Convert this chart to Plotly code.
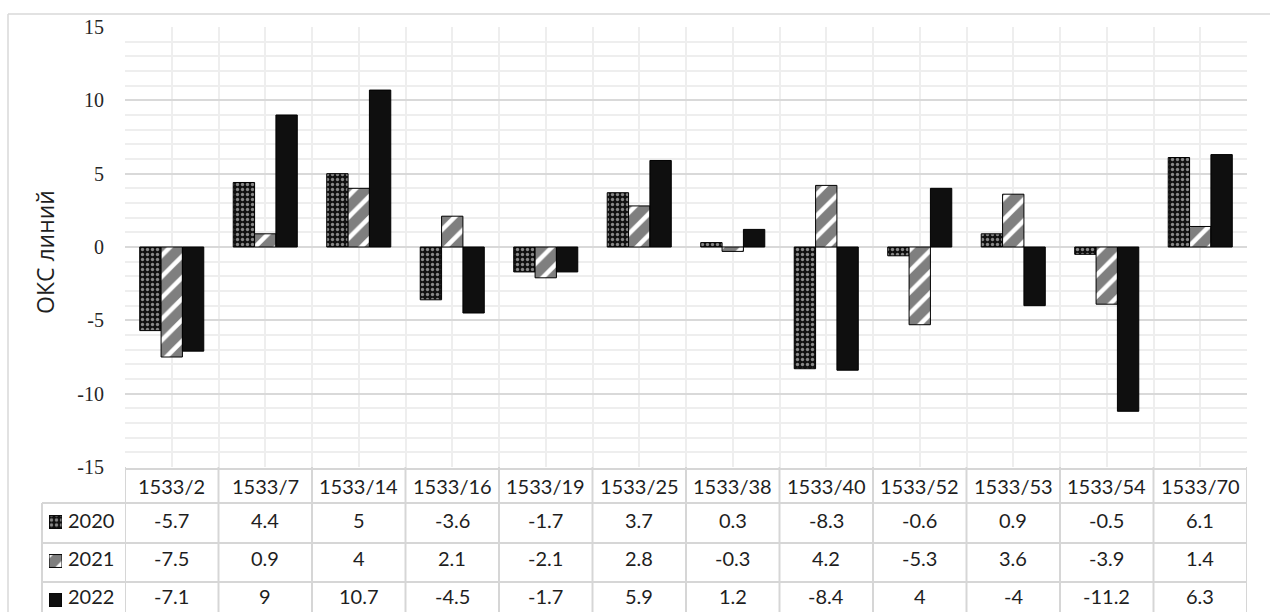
import numpy as np
import plotly.graph_objects as go

# ---- data ----
categories = ["1533/2", "1533/7", "1533/14", "1533/16", "1533/19", "1533/25",
              "1533/38", "1533/40", "1533/52", "1533/53", "1533/54", "1533/70"]
years = ["2020", "2021", "2022"]
values_2020 = [-5.7, 4.4, 5, -3.6, -1.7, 3.7, 0.3, -8.3, -0.6, 0.9, -0.5, 6.1]
values_2021 = [-7.5, 0.9, 4, 2.1, -2.1, 2.8, -0.3, 4.2, -5.3, 3.6, -3.9, 1.4]
values_2022 = [-7.1, 9, 10.7, -4.5, -1.7, 5.9, 1.2, -8.4, 4, -4, -11.2, 6.3]
series = [values_2020, values_2021, values_2022]
y_ticks = [-15, -10, -5, 0, 5, 10, 15]
y_title = "ОКС линий"

# ---- geometry (pixels of a 1270x612 canvas) ----
W, H = 1270, 612
PLOT_L, PLOT_R, PLOT_T, PLOT_B = 125, 1247, 27, 467
ROW_LINES = [503, 543, 582]          # horizontal table rules
ROW_CENTERS = [522, 561, 600]        # centers of the three data rows (swatches)
TEXT_CENTERS = [520, 558, 596]       # vertical centers of the row texts
HEADER_CENTER = 486
KEY_L, KEY_R = 49, 62
TABLE_L = 42

def px(x):
    return x / W

def py(y):
    return 1 - y / H

TABLE_FONT = dict(family="Lato, 'Open Sans', sans-serif", size=20, color="#1e1e1e")
GRID_MINOR = "#eeeeee"
GRID_MAJOR = "#d9d9d9"
TABLE_LINE = "#d6d6d6"

styles = [
    dict(color="#111111", pattern=dict(shape=".", fgcolor="white", bgcolor="#111111",
                                       size=5, solidity=0.35)),
    dict(color="white", pattern=dict(shape="/", fgcolor="#000000", bgcolor="white",
                                     size=15, solidity=0.7)),
    dict(color="#0f0f0f"),
]

xpos = np.arange(len(categories))

fig = go.Figure()
for name, vals, st in zip(years, series, styles):
    fig.add_trace(go.Bar(
        x=xpos, y=vals, name=name,
        marker=dict(line=dict(color="#000000", width=1), **st),
        showlegend=False,
    ))

# legend swatches placed inside the table's first column
for i, (name, st) in enumerate(zip(years, styles)):
    fig.add_trace(go.Bar(
        x=[1], y=[i], base=0, orientation="h", width=0.33,
        marker=dict(line=dict(color="#000000", width=1), **st),
        xaxis="x2", yaxis="y2", showlegend=False, hoverinfo="skip",
    ))

row_h = (ROW_CENTERS[2] - ROW_CENTERS[0]) / 2
top_px = ROW_CENTERS[0] - row_h / 2
y2_span = (H - top_px) / row_h

fig.update_layout(
    width=W, height=H, autosize=False,
    margin=dict(l=0, r=0, t=0, b=0, pad=0),
    paper_bgcolor="white",
    plot_bgcolor="rgba(0,0,0,0)",
    barmode="group", bargap=0.315, bargroupgap=0,
    xaxis=dict(
        domain=[px(PLOT_L), px(PLOT_R)],
        range=[-0.5, len(categories) - 0.5],
        tickmode="linear", tick0=-0.5, dtick=0.5,
        showticklabels=False, ticks="", automargin=False,
        showgrid=True, gridcolor=GRID_MINOR, gridwidth=2,
        zeroline=False, fixedrange=True,
    ),
    yaxis=dict(
        domain=[py(PLOT_B), py(PLOT_T)],
        range=[-15, 15],
        tickmode="array", tickvals=y_ticks, ticktext=[str(t) for t in y_ticks],
        tickfont=dict(family="Liberation Serif, 'Times New Roman', serif", size=20,
                      color="#262626"),
        ticks="", ticklabelstandoff=20, automargin=False,
        showgrid=True, gridcolor=GRID_MAJOR, gridwidth=2,
        minor=dict(tickmode="linear", tick0=0, dtick=1, showgrid=True,
                   gridcolor=GRID_MINOR, gridwidth=2, ticks=""),
        zeroline=True, zerolinecolor=GRID_MAJOR, zerolinewidth=2,
        fixedrange=True,
    ),
    xaxis2=dict(domain=[px(KEY_L), px(KEY_R)], range=[0, 1], visible=False,
                anchor="y2", fixedrange=True, automargin=False),
    yaxis2=dict(domain=[0, py(top_px)], range=[-0.5 + y2_span, -0.5],
                visible=False, anchor="x2", fixedrange=True, automargin=False),
)

shapes = []
# outer chart frame (top and left edges lie inside the canvas)
shapes.append(dict(type="line", xref="paper", yref="paper",
                   x0=px(8), x1=1, y0=py(14), y1=py(14),
                   line=dict(color="#d9d9d9", width=1.5), layer="below"))
shapes.append(dict(type="line", xref="paper", yref="paper",
                   x0=px(8), x1=px(8), y0=0, y1=py(14),
                   line=dict(color="#d9d9d9", width=1.5), layer="below"))
# table: header top rule and row rules
shapes.append(dict(type="line", xref="paper", yref="paper",
                   x0=px(PLOT_L), x1=px(PLOT_R), y0=py(PLOT_B + 2), y1=py(PLOT_B + 2),
                   line=dict(color=TABLE_LINE, width=2), layer="above"))
for yl in ROW_LINES:
    shapes.append(dict(type="line", xref="paper", yref="paper",
                       x0=px(TABLE_L), x1=px(PLOT_R), y0=py(yl), y1=py(yl),
                       line=dict(color=TABLE_LINE, width=2), layer="above"))
# table: column rules at category boundaries
for k in range(len(categories) + 1):
    shapes.append(dict(type="line", xref="x", yref="paper",
                       x0=k - 0.5, x1=k - 0.5, y0=py(PLOT_B), y1=0,
                       line=dict(color=TABLE_LINE, width=2), layer="above"))
shapes.append(dict(type="line", xref="paper", yref="paper",
                   x0=px(TABLE_L), x1=px(TABLE_L), y0=py(ROW_LINES[0]), y1=0,
                   line=dict(color=TABLE_LINE, width=2), layer="above"))
fig.update_layout(shapes=shapes)

annotations = []
# header row: category names
for i, cat in enumerate(categories):
    annotations.append(dict(x=i, y=py(HEADER_CENTER), xref="x", yref="paper",
                            text=cat, showarrow=False, font=TABLE_FONT,
                            xanchor="center", yanchor="middle"))
# data rows
for r, (name, vals) in enumerate(zip(years, series)):
    annotations.append(dict(x=px(66), y=py(TEXT_CENTERS[r]), xref="paper", yref="paper",
                            text=name, showarrow=False, font=TABLE_FONT,
                            xanchor="left", yanchor="middle"))
    for i, v in enumerate(vals):
        annotations.append(dict(x=i, y=py(TEXT_CENTERS[r]), xref="x", yref="paper",
                                text=f"{v:g}", showarrow=False, font=TABLE_FONT,
                                xanchor="center", yanchor="middle"))
# y-axis title
annotations.append(dict(x=px(45), y=py(252), xref="paper", yref="paper",
                        text=y_title, textangle=-90, showarrow=False,
                        font=dict(family="'Open Sans', sans-serif", size=23,
                                  color="#1e1e1e"),
                        xanchor="center", yanchor="middle"))
fig.update_layout(annotations=annotations)

fig.write_html("out.html")
